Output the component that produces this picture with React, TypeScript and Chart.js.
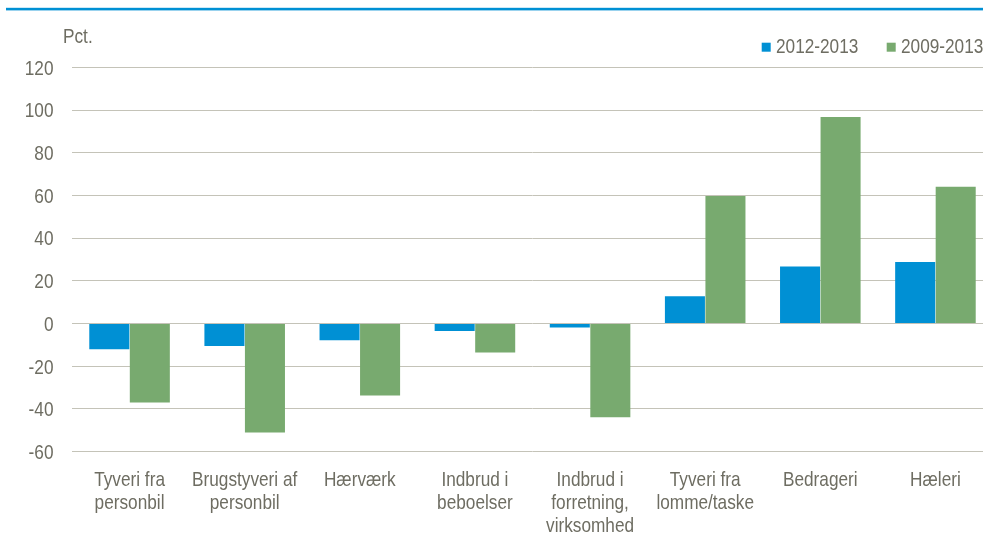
import React, { useEffect, useRef } from "react";
import { Chart, registerables } from "chart.js";

Chart.register(...registerables);

const categories: string[][] = [
  ["Tyveri fra", "personbil"],
  ["Brugstyveri af", "personbil"],
  ["Hærværk"],
  ["Indbrud i", "beboelser"],
  ["Indbrud i", "forretning,", "virksomhed"],
  ["Tyveri fra", "lomme/taske"],
  ["Bedrageri"],
  ["Hæleri"],
];
const seriesNames = ["2012-2013", "2009-2013"];
const values2012_2013 = [-12, -10.5, -7.8, -3.5, -1.9, 12.8, 26.7, 28.8];
const values2009_2013 = [-37, -51, -33.7, -13.6, -43.9, 59.7, 96.7, 64.1];
const yTicks = { min: -60, max: 120, step: 20 };
const unitLabel = "Pct.";

const BLUE = "#0090d4";
const GREEN = "#78aa6f";
const TEXT = "#6e6d62";
const GRID = "#c4c3b8";
const FONT = '"Liberation Sans", Arial, sans-serif';
const NARROW = 0.82;

function drawNarrow(ctx: any, text: string, x: number, y: number, align: string) {
  ctx.save();
  ctx.translate(x, y);
  ctx.scale(NARROW, 1);
  ctx.textAlign = align;
  ctx.textBaseline = "alphabetic";
  ctx.fillText(text, 0, 0);
  ctx.restore();
}

const decorPlugin = {
  id: "decor",
  afterDraw(chart: any) {
    const ctx = chart.ctx;
    ctx.save();
    // top rule
    ctx.fillStyle = BLUE;
    ctx.fillRect(6, 7.8, 983, 2.6);
    ctx.fillStyle = TEXT;
    ctx.font = `21px ${FONT}`;
    // unit label
    drawNarrow(ctx, unitLabel, 63, 42.7, "left");
    // legend
    const xs = [761.7, 886.7];
    chart.data.datasets.forEach((d: any, i: number) => {
      ctx.fillStyle = d.backgroundColor;
      ctx.fillRect(xs[i], 42.7, 9, 9);
      ctx.fillStyle = TEXT;
      drawNarrow(ctx, d.label, xs[i] + 14.3, 53.3, "left");
    });
    // y tick labels
    const ys = chart.scales.y;
    ys.ticks.forEach((t: any, i: number) => {
      const py = ys.getPixelForTick(i);
      drawNarrow(ctx, String(t.value), 53.5, py + 7.3, "right");
    });
    // x tick labels
    const xsc = chart.scales.x;
    const labels = xsc.getLabels();
    labels.forEach((lab: any, i: number) => {
      const px = xsc.getPixelForTick(i);
      const lines = Array.isArray(lab) ? lab : [lab];
      lines.forEach((ln: string, j: number) => {
        drawNarrow(ctx, ln, px, 486 + j * 23, "center");
      });
    });
    ctx.restore();
  },
};

export default function App() {
  const ref = useRef<HTMLCanvasElement | null>(null);
  useEffect(() => {
    if (!ref.current) return;
    const chart = new Chart(ref.current, {
      type: "bar",
      data: {
        labels: categories,
        datasets: [
          {
            label: seriesNames[0],
            data: values2012_2013,
            backgroundColor: BLUE,
            categoryPercentage: 0.704,
            barPercentage: 0.988,
          },
          {
            label: seriesNames[1],
            data: values2009_2013,
            backgroundColor: GREEN,
            categoryPercentage: 0.704,
            barPercentage: 0.988,
          },
        ],
      },
      options: {
        animation: false,
        responsive: false,
        maintainAspectRatio: false,
        layout: { padding: { top: 67.3, right: 0, bottom: 0, left: 0 } },
        plugins: { legend: { display: false }, tooltip: { enabled: false } },
        scales: {
          x: {
            grid: { display: false, drawTicks: false },
            border: { display: false },
            ticks: {
              color: "rgba(0,0,0,0)",
              font: { family: FONT, size: 14 },
              padding: 14,
              maxRotation: 0,
              autoSkip: false,
            },
            afterFit(scale: any) {
              scale.height = 87.3;
            },
          },
          y: {
            min: yTicks.min,
            max: yTicks.max,
            grid: { color: GRID, lineWidth: 1, drawTicks: false },
            border: { display: false },
            ticks: {
              stepSize: yTicks.step,
              color: "rgba(0,0,0,0)",
              font: { family: FONT, size: 14 },
              padding: 18,
            },
            afterFit(scale: any) {
              scale.width = 72;
            },
          },
        },
      },
      plugins: [decorPlugin],
    });
    return () => chart.destroy();
  }, []);
  return (
    <div style={{ position: "fixed", left: 0, top: 0, width: 983, height: 539, overflow: "hidden", background: "#fff" }}>
      <canvas ref={ref} width={993} height={539} style={{ width: 993, height: 539, display: "block" }} />
    </div>
  );
}
